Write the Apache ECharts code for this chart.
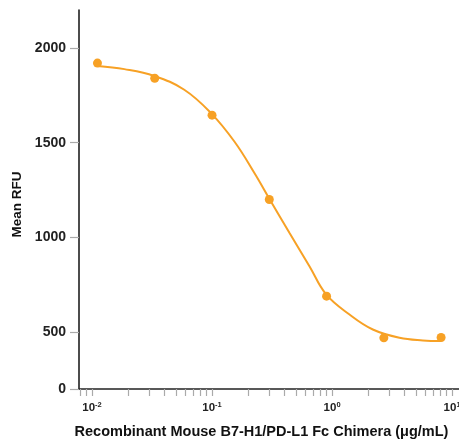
<!DOCTYPE html>
<html>
<head>
<meta charset="utf-8">
<script src="https://cdn.jsdelivr.net/npm/echarts@6/dist/echarts.min.js"></script>
<style>
html,body{margin:0;padding:0;background:#fff;}
#chart{width:459px;height:443px;}
</style>
</head>
<body>
<div id="chart"></div>
<script>
// Measured points: concentration (µg/mL) and Mean RFU
var pointConc = [0.0111, 0.0333, 0.1, 0.3, 0.9, 2.7, 8.1];
var pointRFU  = [1920, 1840, 1645, 1200, 690, 470, 472];
// Fitted curve
var curveConc = [0.0111, 0.0186, 0.033, 0.0587, 0.098, 0.1535, 0.2254, 0.3034, 0.441, 0.648, 0.893, 1.397, 2.185, 3.65, 5.71, 8.1];
var curveRFU  = [1905, 1888, 1852, 1779, 1656, 1506, 1340, 1199, 1024, 848, 699, 593, 514, 470, 456, 453];
// Axis ticks
var yTickValues = [200, 500, 1000, 1500, 2000];
var yTickLabels = ['0', '500', '1000', '1500', '2000'];
var xLabelValues = [0.01, 0.1, 1, 10];
var xLabelExponents = ['-2', '-1', '0', '1'];

var xMin = 0.00779, xMax = 14.1;
var xTicks = [];
for (var e = -3; e <= 1; e++) {
  for (var k = 1; k <= 9; k++) {
    var v = +(k * Math.pow(10, e)).toPrecision(6);
    if (v >= xMin && v <= xMax) xTicks.push(v);
  }
}

var FONT = "'Liberation Sans', Arial, sans-serif";
var ORANGE = '#F7A125';

var chart = echarts.init(document.getElementById('chart'));
chart.setOption({
  animation: false,
  backgroundColor: '#fff',
  grid: {left: 79, top: 10, bottom: 54, right: -11, outerBoundsMode: 'none', containLabel: false},
  xAxis: {
    type: 'log',
    logBase: 10,
    min: xMin,
    max: xMax,
    name: 'Recombinant Mouse B7-H1/PD-L1 Fc Chimera (μg/mL)',
    nameLocation: 'middle',
    nameGap: 35,
    nameTextStyle: {fontFamily: FONT, fontWeight: 'bold', fontSize: 14.5, color: '#111', padding: [0, 26, 0, 0]},
    axisLine: {show: true, lineStyle: {color: '#222', width: 1.5}},
    axisTick: {show: true, inside: false, length: 7, customValues: xTicks, lineStyle: {color: '#aaa', width: 1.2}},
    axisLabel: {
      show: true,
      margin: 12,
      customValues: xLabelValues,
      formatter: function (val) {
        for (var i = 0; i < xLabelValues.length; i++) {
          if (Math.abs(val - xLabelValues[i]) / xLabelValues[i] < 1e-6) {
            return '{b|10}{s|' + xLabelExponents[i] + '}';
          }
        }
        return '';
      },
      rich: {
        b: {fontFamily: FONT, fontWeight: 'bold', fontSize: 11.5, color: '#222'},
        s: {fontFamily: FONT, fontWeight: 'bold', fontSize: 7.5, color: '#222', padding: [0, 0, 6, 0]}
      }
    },
    splitLine: {show: false},
    minorTick: {show: false}
  },
  yAxis: {
    type: 'value',
    min: 200,
    max: 2200,
    name: 'Mean RFU',
    nameLocation: 'middle',
    nameGap: 48,
    nameTextStyle: {fontFamily: FONT, fontWeight: 'bold', fontSize: 13.5, color: '#111', padding: [0, 0, 0, -10]},
    axisLine: {show: true, lineStyle: {color: '#111', width: 1.5}},
    axisTick: {show: true, inside: false, length: 9, customValues: yTickValues, lineStyle: {color: '#aaa', width: 1.2}},
    axisLabel: {
      show: true,
      margin: 13,
      customValues: yTickValues,
      fontFamily: FONT, fontWeight: 'bold', fontSize: 14, color: '#222',
      formatter: function (val) {
        var i = yTickValues.indexOf(val);
        return i >= 0 ? yTickLabels[i] : '';
      }
    },
    splitLine: {show: false}
  },
  series: [
    {
      type: 'line',
      data: curveConc.map(function (c, i) { return [c, curveRFU[i]]; }),
      smooth: 0.4,
      showSymbol: false,
      symbol: 'none',
      lineStyle: {color: ORANGE, width: 2},
      z: 2
    },
    {
      type: 'scatter',
      data: pointConc.map(function (c, i) { return [c, pointRFU[i]]; }),
      symbol: 'circle',
      symbolSize: 9,
      itemStyle: {color: ORANGE, opacity: 1},
      z: 3
    }
  ]
});
</script>
</body>
</html>
